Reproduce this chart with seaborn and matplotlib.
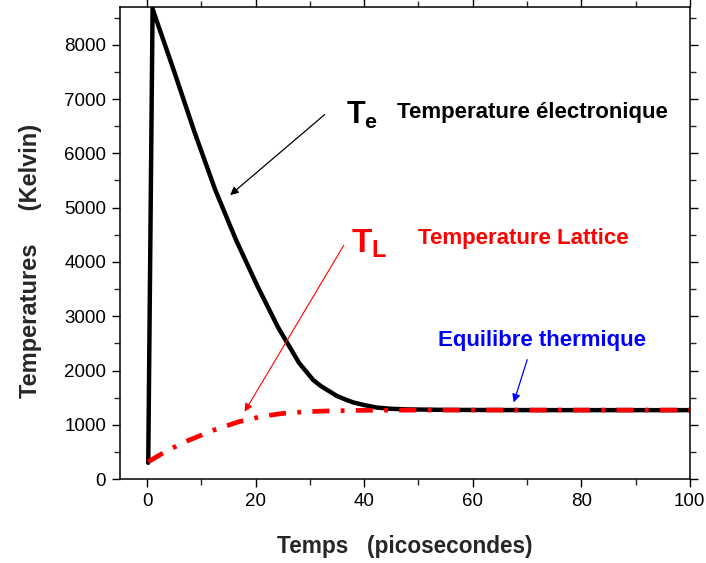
import matplotlib
matplotlib.use("Agg")
import matplotlib.pyplot as plt
import seaborn as sns
from matplotlib.ticker import MultipleLocator

# ---- data ----
te_time = [0.2, 1.0, 4.8, 8.7, 12.5, 16.4, 20.3, 24.1, 28.0, 30.6, 32.0, 33.7, 35.0,
           36.8, 38.0, 40.0, 42.3, 45.0, 48.0, 55.0, 70.0, 100.0]
te_temp = [300, 8660, 7560, 6400, 5340, 4400, 3560, 2800, 2140, 1825, 1715, 1610, 1530,
           1456, 1412, 1364, 1318, 1295, 1284, 1275, 1271, 1270]

tl_time = [0.2, 3.6, 7.3, 12.2, 17.0, 21.4, 25.0, 28.7, 33.0, 40.0, 50.0, 70.0, 100.0]
tl_temp = [320, 520, 700, 900, 1060, 1160, 1210, 1238, 1255, 1267, 1271, 1272, 1272]

x_ticks = [0, 20, 40, 60, 80, 100]
y_ticks = [0, 1000, 2000, 3000, 4000, 5000, 6000, 7000, 8000]

sns.set_style("ticks")
plt.rcParams['font.family'] = ['Liberation Sans', 'DejaVu Sans']
plt.rcParams['mathtext.fontset'] = 'custom'
plt.rcParams['mathtext.rm'] = 'Liberation Sans'
plt.rcParams['mathtext.bf'] = 'Liberation Sans:bold'

fig = plt.figure(figsize=(7.06, 5.63), dpi=100)
ax = fig.add_axes([0.170, 0.149, 0.807, 0.839])

sns.lineplot(x=te_time, y=te_temp, ax=ax, color='black', lw=3.2, sort=False)
sns.lineplot(x=tl_time, y=tl_temp, ax=ax, color='#ff0000', lw=3.4, sort=False,
             linestyle=(0, (3.6, 2.4, 0.8, 2.4)))

ax.set_xlim(-5, 100)
ax.set_ylim(0, 8700)
ax.set_xticks(x_ticks)
ax.set_yticks(y_ticks)
ax.xaxis.set_minor_locator(MultipleLocator(10))
ax.yaxis.set_minor_locator(MultipleLocator(500))
ax.tick_params(axis='both', which='major', direction='out', length=6, width=1,
               labelsize=13.5, colors='black', top=True, right=True, pad=4)
ax.tick_params(axis='both', which='minor', direction='out', length=4, width=1,
               top=True, right=True)
for s in ax.spines.values():
    s.set_visible(True)
    s.set_linewidth(1.1)
    s.set_color('black')

ax.set_xlabel("Temps   (picosecondes)", fontsize=16.3, fontweight='bold', labelpad=18)
ax.set_ylabel("Temperatures     (Kelvin)", fontsize=17, fontweight='bold', labelpad=16)
ax.yaxis.label.set_y(0.462)

# annotations
ax.text(36.6, 6700, r"$\mathbf{T_e}$", fontsize=22, color='black', ha='left', va='center')
ax.text(46.0, 6747, "Temperature électronique", fontsize=16, fontweight='bold',
        color='black', ha='left', va='center')
ax.annotate("", xy=(14.9, 5198), xytext=(33.1, 6747),
            arrowprops=dict(arrowstyle='-|>', color='black', lw=0.9, mutation_scale=12))

ax.text(37.6, 4330, r"$\mathbf{T_L}$", fontsize=24, color='#ff0000', ha='left', va='center')
ax.text(49.9, 4424, "Temperature Lattice", fontsize=16, fontweight='bold',
        color='#ff0000', ha='left', va='center')
ax.annotate("", xy=(17.7, 1198), xytext=(36.5, 4350),
            arrowprops=dict(arrowstyle='-|>', color='#ff0000', lw=0.8, mutation_scale=12))

ax.text(53.6, 2544, "Equilibre thermique", fontsize=16, fontweight='bold',
        color='#0000ff', ha='left', va='center')
ax.annotate("", xy=(67.4, 1364), xytext=(70.2, 2249),
            arrowprops=dict(arrowstyle='-|>', color='#0000ff', lw=0.9, mutation_scale=12))

fig.savefig("out.png", dpi=100)
